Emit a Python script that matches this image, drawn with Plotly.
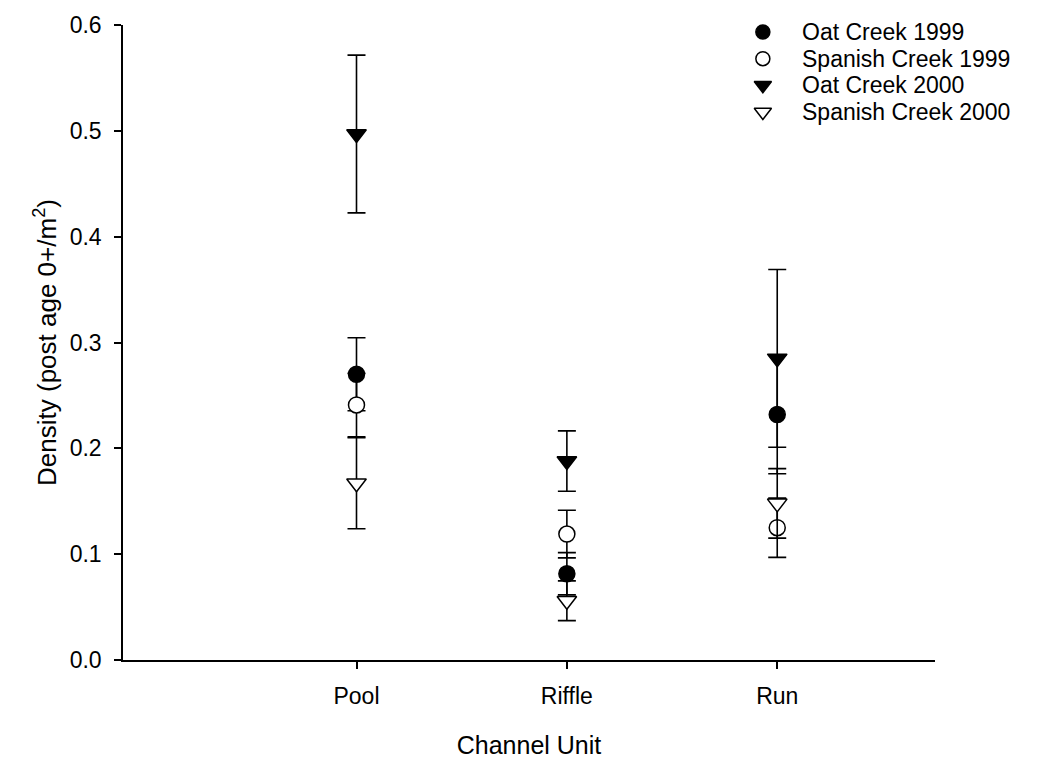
import plotly.graph_objects as go

# Channel units along the x axis
units = ["Pool", "Riffle", "Run"]
unit_pos = [1, 2, 3]

# Mean density (post age 0+ per m^2) and standard errors for each creek/year
oat_1999 = [0.270, 0.0815, 0.232]
oat_1999_se = [0.0345, 0.020, 0.056]

spanish_1999 = [0.241, 0.119, 0.125]
spanish_1999_se = [0.030, 0.0225, 0.028]

oat_2000 = [0.497, 0.188, 0.285]
oat_2000_se = [0.0745, 0.0285, 0.084]

spanish_2000 = [0.167, 0.056, 0.148]
spanish_2000_se = [0.043, 0.0188, 0.0328]

y_ticks = [0.0, 0.1, 0.2, 0.3, 0.4, 0.5, 0.6]
y_ticktext = ["0.0", "0.1", "0.2", "0.3", "0.4", "0.5", "0.6"]

FONT = "Liberation Sans, Arial, sans-serif"

series = [
    ("Oat Creek 1999", oat_1999, oat_1999_se, "circle", "black", 16),
    ("Spanish Creek 1999", spanish_1999, spanish_1999_se, "circle", "white", 16),
    ("Oat Creek 2000", oat_2000, oat_2000_se, "triangle-down", "black", 17),
    ("Spanish Creek 2000", spanish_2000, spanish_2000_se, "triangle-down", "white", 17),
]

fig = go.Figure()
for name, vals, errs, symbol, fill, size in series:
    fig.add_trace(go.Scatter(
        x=unit_pos,
        y=vals,
        name=name,
        mode="markers",
        showlegend=False,
        marker=dict(symbol=symbol, size=size, color=fill,
                    line=dict(color="black", width=1.5)),
        error_y=dict(type="data", array=errs, visible=True,
                     color="black", thickness=1.6, width=9),
    ))

# Compact key in the upper right corner: symbols on an invisible overlay
# axis spanning the plot area, labels as paper-positioned text.
key_x_symbol = 0.788
key_x_text = 0.834
key_rows = [0.989, 0.947, 0.905, 0.863]
for (name, _, _, symbol, fill, size), ky in zip(series, key_rows):
    fig.add_trace(go.Scatter(
        x=[key_x_symbol], y=[ky],
        xaxis="x2", yaxis="y2",
        mode="markers",
        showlegend=False,
        hoverinfo="skip",
        cliponaxis=False,
        marker=dict(symbol=symbol, size=size - 2, color=fill,
                    line=dict(color="black", width=1.5)),
    ))
    fig.add_annotation(
        x=key_x_text, y=ky, xref="paper", yref="paper",
        xanchor="left", yanchor="middle", showarrow=False,
        text=name, font=dict(family=FONT, size=23, color="black"),
    )

fig.update_layout(
    width=1037,
    height=769,
    paper_bgcolor="white",
    plot_bgcolor="white",
    margin=dict(l=123, r=102, t=21, b=109),
    font=dict(family=FONT, size=23, color="black"),
    showlegend=False,
    xaxis2=dict(domain=[0, 1], range=[0, 1], overlaying="x", visible=False),
    yaxis2=dict(domain=[0, 1], range=[0, 1], overlaying="y", visible=False),
    xaxis=dict(
        range=[-0.11, 3.75],
        tickmode="array",
        tickvals=unit_pos,
        ticktext=units,
        showline=True,
        linecolor="black",
        linewidth=1.5,
        ticks="outside",
        ticklen=7,
        tickwidth=1.5,
        tickcolor="black",
        ticklabelstandoff=8,
        tickfont=dict(family=FONT, size=23),
        showgrid=False,
        zeroline=False,
        title=dict(text="Channel Unit", font=dict(family=FONT, size=25), standoff=28),
    ),
    yaxis=dict(
        range=[0, 0.6],
        tickmode="array",
        tickvals=y_ticks,
        ticktext=y_ticktext,
        showline=True,
        linecolor="black",
        linewidth=1.5,
        ticks="outside",
        ticklen=7,
        tickwidth=1.5,
        tickcolor="black",
        ticklabelstandoff=8,
        tickfont=dict(family=FONT, size=23),
        showgrid=False,
        zeroline=False,
        title=dict(text="Density (post age 0+/m<sup>2</sup>)",
                   font=dict(family=FONT, size=26), standoff=6),
    ),
)

fig.write_html("out.html")
